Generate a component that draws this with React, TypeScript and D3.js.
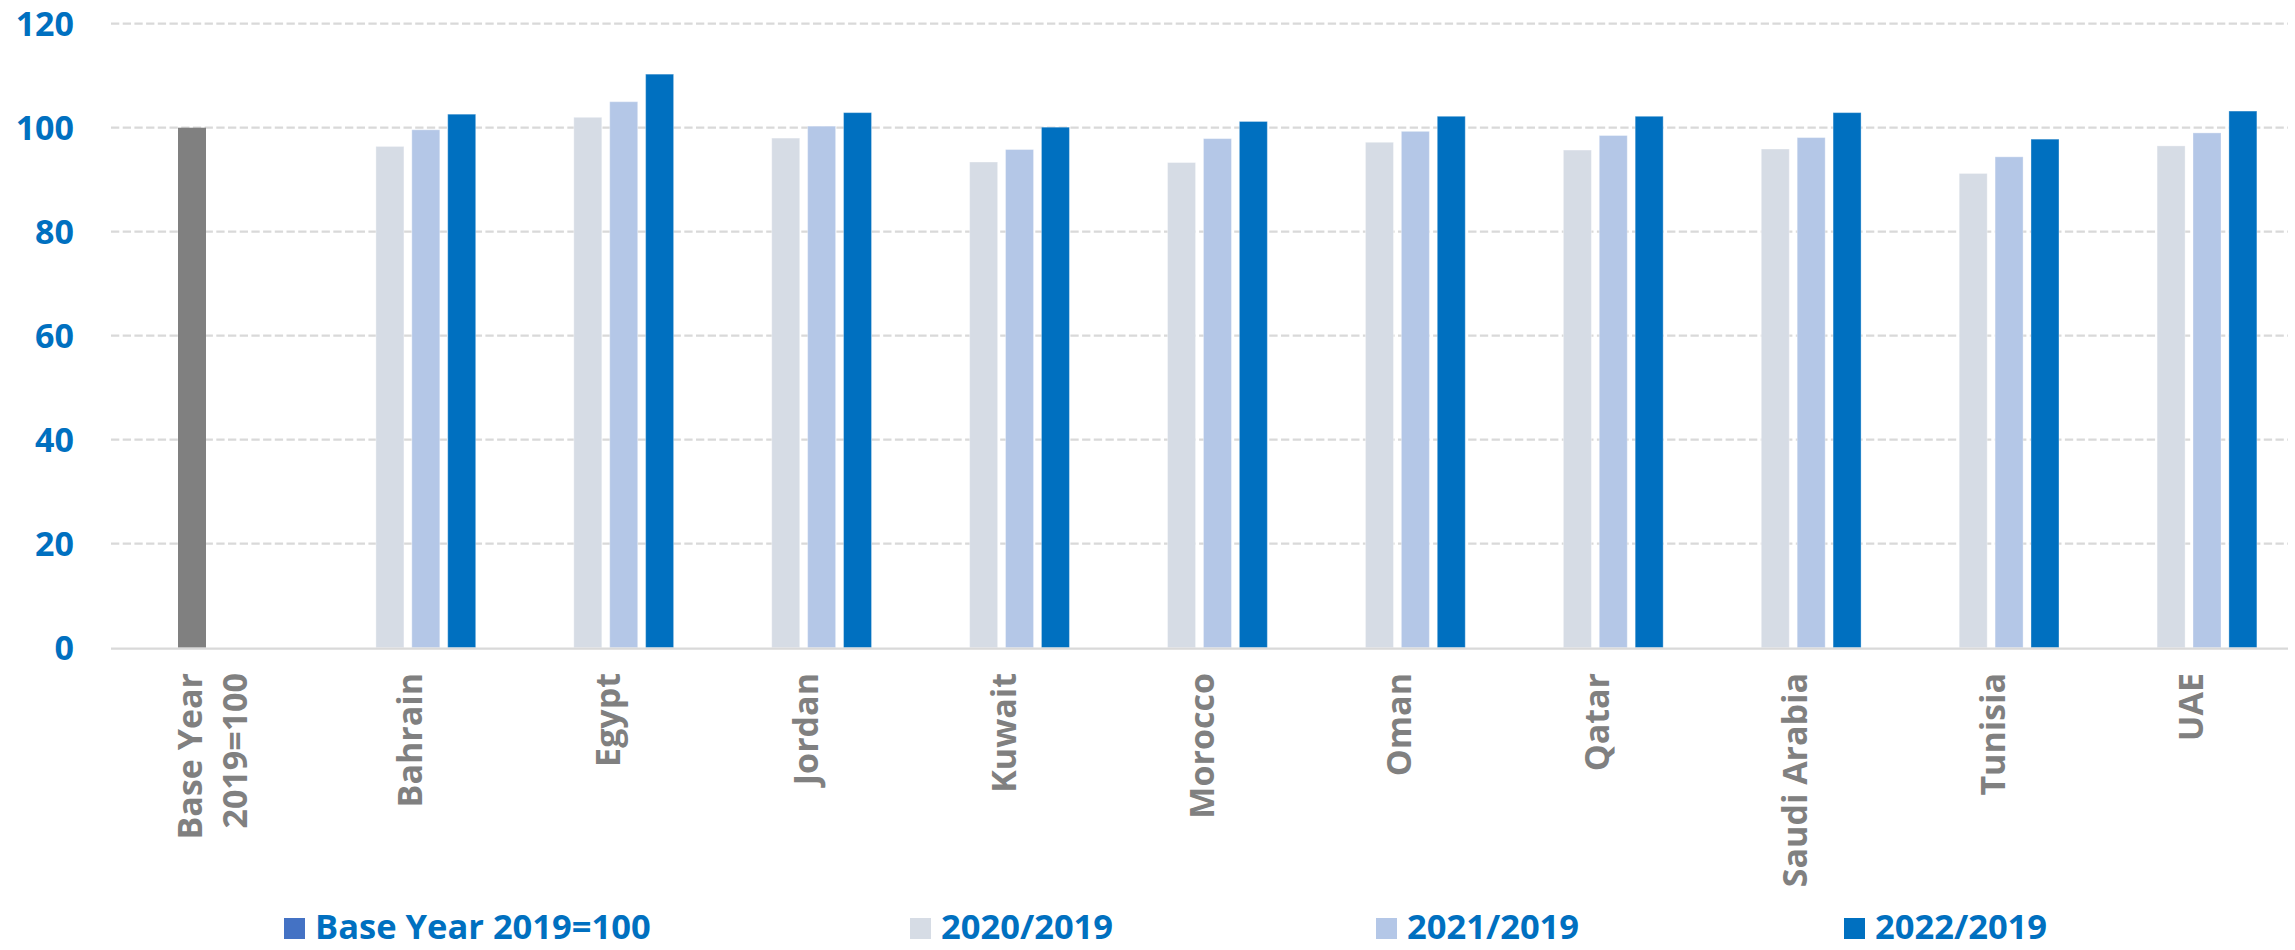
import React from "react";
import * as d3 from "d3";

const categories = ["Base Year|2019=100", "Bahrain", "Egypt", "Jordan", "Kuwait", "Morocco", "Oman", "Qatar", "Saudi Arabia", "Tunisia", "UAE"];
const seriesNames = ["Base Year 2019=100", "2020/2019", "2021/2019", "2022/2019"];
const seriesColors = ["#4472C4", "#D6DCE5", "#B4C7E7", "#0070C0"];
const baseYearValues: (number | null)[] = [null, null, null, null, null, null, null, null, null, null, null];
const values2020: (number | null)[] = [100, 96.4, 102.0, 98.0, 93.4, 93.3, 97.2, 95.7, 95.9, 91.2, 96.5];
const values2021: (number | null)[] = [null, 99.6, 105.0, 100.3, 95.8, 97.9, 99.3, 98.5, 98.1, 94.4, 99.0];
const values2022: (number | null)[] = [null, 102.6, 110.3, 102.9, 100.1, 101.2, 102.2, 102.2, 102.9, 97.8, 103.2];
const yTicks = [0, 20, 40, 60, 80, 100, 120];
// point colour override: the base-year bar drawn grey
const greyPointIndex = 0;

const W = 2295;
const H = 950;
const FONT = "'Open Sans', 'DejaVu Sans', sans-serif";
const BLUE = "#0070C0";
const GREY_TEXT = "#808080";

export default function App() {
  const allSeries = [baseYearValues, values2020, values2021, values2022];
  const x0 = d3.scaleBand<string>().domain(categories).range([111, 2288]).padding(0);
  const x1 = d3.scaleBand<string>().domain(seriesNames).range([-71.8, 71.8]).paddingInner(0.22).paddingOuter(0.11);
  const y = d3.scaleLinear().domain([0, 120]).range([647.7, 23.7]);
  const [xl, xr] = x0.range();

  const legendX = [284, 910, 1376, 1844];

  return (
    <svg width={W} height={H} style={{ position: "absolute", left: 0, top: 0, background: "#fff" }} fontFamily={FONT}>
      <rect x={0} y={0} width={W} height={H} fill="#fff" />
      {/* gridlines */}
      {yTicks.filter((t) => t !== 0).map((t) => (
        <line key={t} x1={xl} x2={xr} y1={y(t)} y2={y(t)} stroke="#D9D9D9" strokeWidth={2.2} strokeDasharray="8.3 3.4" />
      ))}
      {/* y labels */}
      {yTicks.map((t) => (
        <text key={"yl" + t} x={74} y={y(t) + 12} textAnchor="end" fontSize={34} fontWeight={700} fill={BLUE}>
          {t}
        </text>
      ))}
      {/* bars */}
      {allSeries.map((vals, si) =>
        vals.map((v, ci) => {
          if (v == null) return null;
          const cx = (x0(categories[ci]) as number) + x0.bandwidth() / 2;
          const bx = cx + (x1(seriesNames[si]) as number);
          const isGrey = si === 1 && ci === greyPointIndex;
          const fill = isGrey ? "#808080" : seriesColors[si];
          return (
            <rect
              key={si + "-" + ci}
              x={bx}
              y={y(v)}
              width={x1.bandwidth()}
              height={y(0) - y(v)}
              fill={fill}
              stroke={isGrey ? "none" : "rgba(255,255,255,0.35)"}
              strokeWidth={1}
            />
          );
        })
      )}
      {/* x axis line */}
      <line x1={xl} x2={xr} y1={y(0) + 1} y2={y(0) + 1} stroke="#D9D9D9" strokeWidth={2.2} />
      {/* x labels */}
      {categories.map((c) => {
        const cx = (x0(c) as number) + x0.bandwidth() / 2;
        const lines = c.split("|");
        const offsets = lines.length === 1 ? [14] : [-8, 37];
        return (
          <g key={"xl" + c}>
            {lines.map((ln, li) => (
              <text
                key={li}
                transform={`translate(${cx + offsets[li]},673) rotate(-90)`}
                textAnchor="end"
                fontSize={34}
                fontWeight={700}
                fill={GREY_TEXT}
              >
                {ln}
              </text>
            ))}
          </g>
        );
      })}
      {/* legend */}
      {seriesNames.map((s, i) => (
        <g key={"lg" + s}>
          <rect x={legendX[i]} y={918} width={21} height={21} fill={seriesColors[i]} />
          <text x={legendX[i] + 31} y={939} fontSize={34.5} fontWeight={700} fill={BLUE}>
            {s}
          </text>
        </g>
      ))}
    </svg>
  );
}
